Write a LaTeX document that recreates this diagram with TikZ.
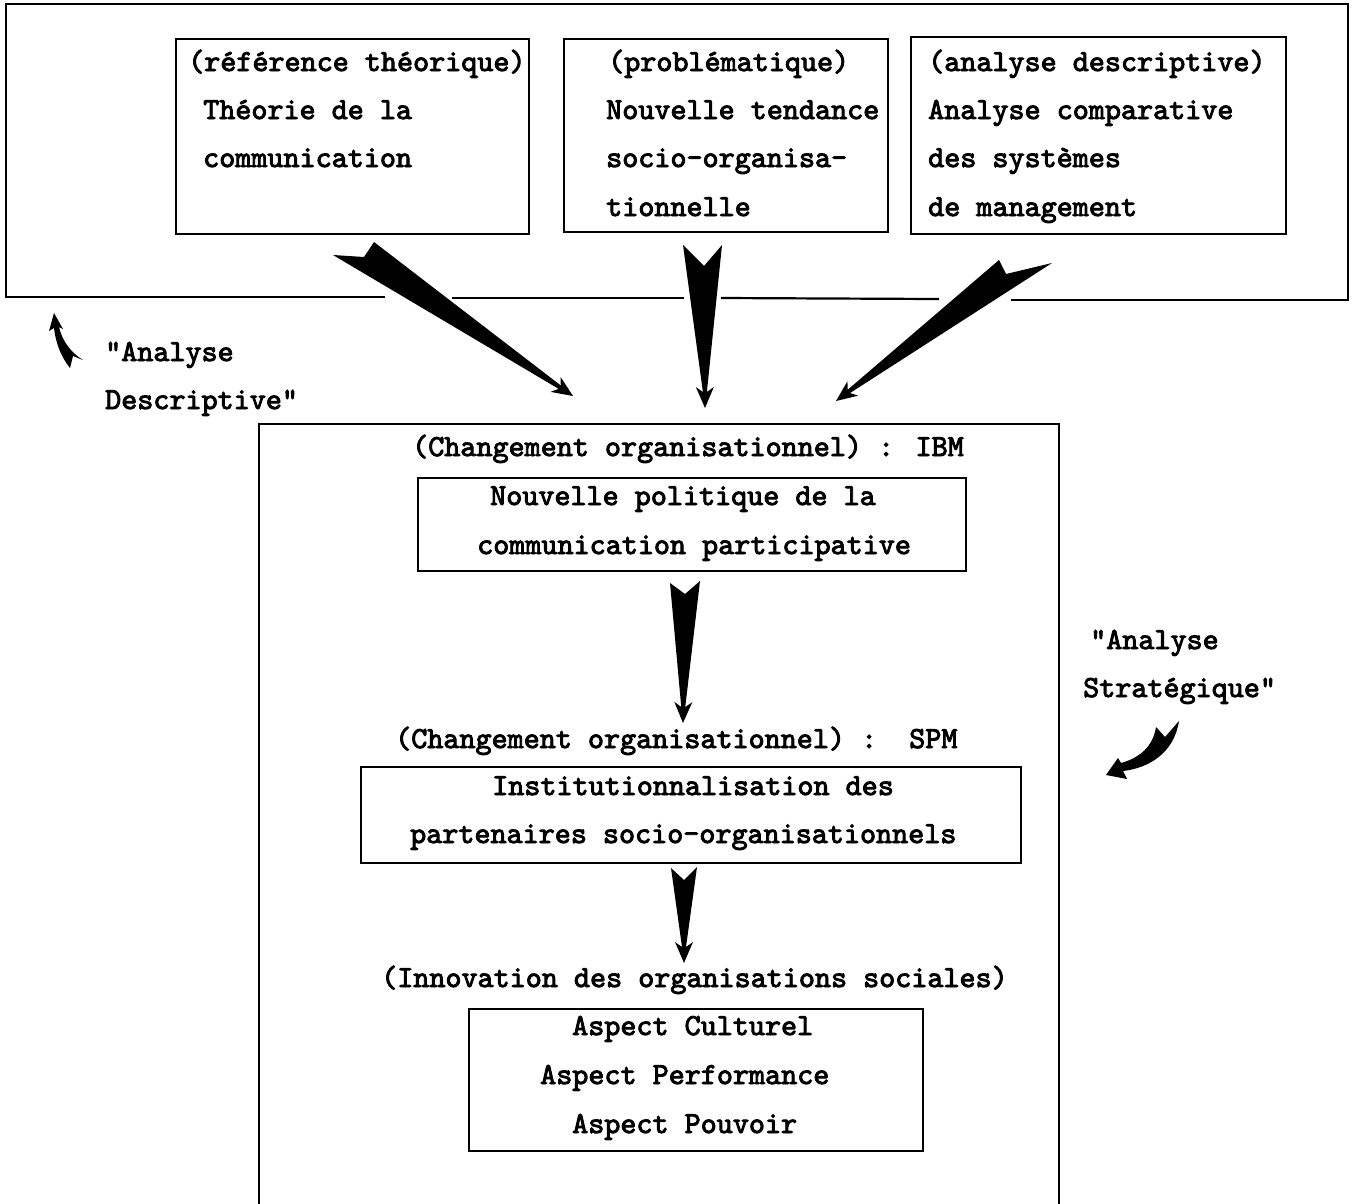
\documentclass[tikz,border=0pt]{standalone}
\usepackage{fontspec}
\newfontfamily\tw{lmmono10-regular.otf}[FakeBold=3]
\usetikzlibrary{calc}
% #1 corner on one side, #2 corner on other side, #3 notch, #4 tip
\newcommand\fatarrow[4]{%
  \path ($(#4)!16pt!(#3)$) coordinate (faq) ($(#4)!21pt!(#3)$) coordinate (far);
  \fill[black] (#1) -- ($(faq)!2pt!90:(#3)$) -- ($(far)!9pt!90:(#3)$) -- (#4)
    -- ($(far)!9pt!-90:(#3)$) -- ($(faq)!2pt!-90:(#3)$) -- (#2) -- (#3) -- cycle;}
\begin{document}
\begin{tikzpicture}[x=1pt,y=-1pt,
  box/.style={draw, line width=2.2pt, anchor=north west, inner sep=0pt},
  txt/.style={anchor=base west, inner sep=0pt, font=\fontsize{30.6}{48}\selectfont\tw},
  frame/.style={line width=2.2pt, line cap=rect}]
\useasboundingbox[fill=white] (0,0) rectangle (1356,1203);

% top frame with gaps in its lower edge
\draw[frame] (384,297) -- (6,297) -- (6,4) -- (1348,4) -- (1348,300) -- (1012,300);
\draw[frame] (453,298) -- (683,298);
\draw[frame] (722,298) -- (938,299);

% top boxes
\node[box, minimum width=353pt, minimum height=195pt] (boxA) at (175,38) {};
\node[box, minimum width=324pt, minimum height=193pt] (boxB) at (563,38) {};
\node[box, minimum width=375pt, minimum height=197pt] (boxC) at (910,36) {};

\node[txt] (a1) at (188,71) {(référence théorique)};
\node[txt] (a2) at (203,119) {Théorie de la};
\node[txt] (a3) at (203,167) {communication};

\node[txt] (b1) at (608,71) {(problématique)};
\node[txt] (b2) at (606,119) {Nouvelle tendance};
\node[txt] (b3) at (606,167) {socio-organisa-};
\node[txt] (b4) at (606,216) {tionnelle};

\node[txt] (c1) at (928,71) {(analyse descriptive)};
\node[txt] (c2) at (928,119) {Analyse comparative};
\node[txt] (c3) at (928,167) {des systèmes};
\node[txt] (c4) at (928,216) {de management};

% lower frame
\node[box, minimum width=800pt, minimum height=830pt] (low) at (258,423) {};

\node[txt] (l1) at (412,456) {(Changement organisationnel) : IBM};
\node[box, minimum width=548pt, minimum height=93pt] (box1) at (417,477) {};
\node[txt] (l2) at (490,505) {Nouvelle politique de la};
\node[txt] (l3) at (477,554) {communication participative};

\node[txt] (l4) at (395,748) {(Changement organisationnel) :\ \ SPM};
\node[box, minimum width=660pt, minimum height=96pt] (box2) at (360,766) {};
\node[txt] (l5) at (492,795) {Institutionnalisation des};
\node[txt] (l6) at (410,843) {partenaires socio-organisationnels};

\node[txt] (l7) at (381,987) {(Innovation des organisations sociales)};
\node[box, minimum width=454pt, minimum height=142pt] (box3) at (468,1008) {};
\node[txt] (l8) at (572,1035) {Aspect Culturel};
\node[txt] (l9) at (540,1084) {Aspect Performance};
\node[txt] (l10) at (572,1133) {Aspect Pouvoir};

% side labels
\node[txt] (d1) at (105,361) {"Analyse};
\node[txt] (d2) at (105,409) {Descriptive"};
\node[txt] (s1) at (1090,649) {"Analyse};
\node[txt] (s2) at (1083,697) {Stratégique"};

% big arrows: corner, corner, notch, tip
\coordinate (p1) at (333,255); \coordinate (q1) at (374,242); \coordinate (n1) at (364,257); \coordinate (h1) at (573,396);
\coordinate (p2) at (683,245); \coordinate (q2) at (722,245); \coordinate (n2) at (704,266); \coordinate (h2) at (705,408);
\coordinate (p3) at (999,260); \coordinate (q3) at (1052,263); \coordinate (n3) at (1006,274); \coordinate (h3) at (836,401);
\coordinate (p4) at (670,583); \coordinate (q4) at (700,581); \coordinate (n4) at (685,594); \coordinate (h4) at (683,723);
\coordinate (p5) at (671,868); \coordinate (q5) at (697,867); \coordinate (n5) at (684,880); \coordinate (h5) at (684,963);
\fatarrow{p1}{q1}{n1}{h1}
\fatarrow{p2}{q2}{n2}{h2}
\fatarrow{p3}{q3}{n3}{h3}
\fatarrow{p4}{q4}{n4}{h4}
\fatarrow{p5}{q5}{n5}{h5}

% small curved arrows
\fill[black] (70,368) -- (73,356) -- (83,360) .. controls (70,352) and (62,340) .. (59,327)
  -- (63,329) -- (54,313) -- (49,331) -- (54,328) .. controls (56,345) and (62,358) .. (70,368) -- cycle;
\fill[black] (1156,727) -- (1165,737) -- (1179,721) .. controls (1174,753) and (1149,768) .. (1123,771)
  -- (1127,779) -- (1106,775) -- (1118,758) -- (1121,763) .. controls (1139,758) and (1153,747) .. (1156,727) -- cycle;
\end{tikzpicture}
\end{document}
